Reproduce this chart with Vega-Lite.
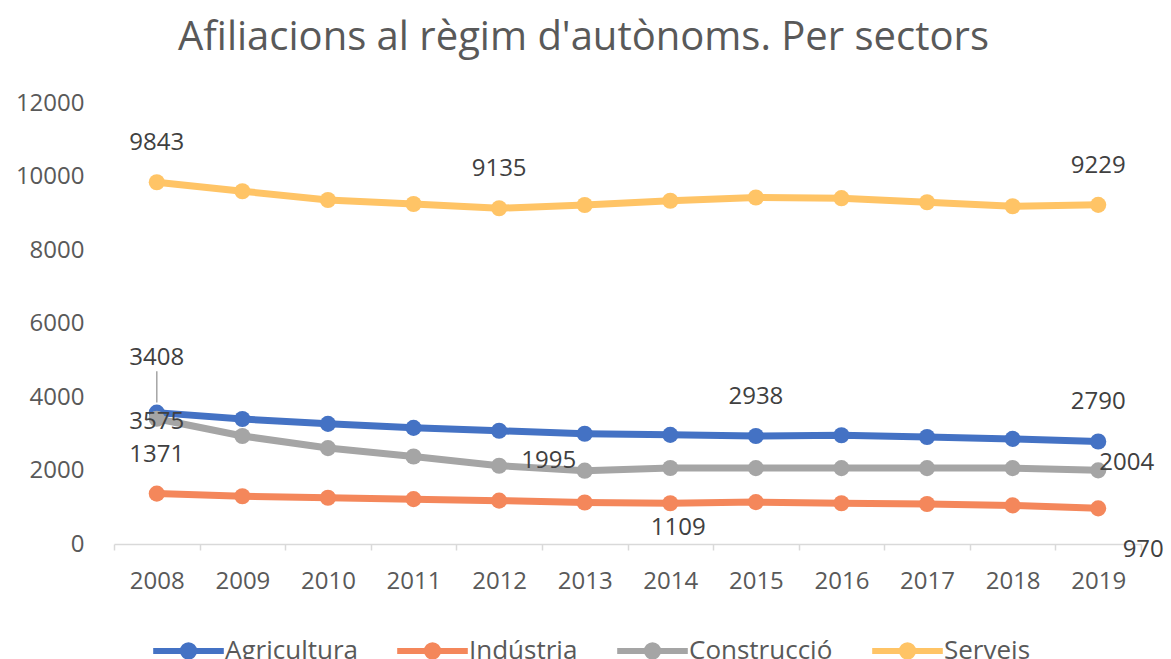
{
  "$schema": "https://vega.github.io/schema/vega-lite/v6.json",
  "width": 1027,
  "height": 441,
  "autosize": {"type": "none"},
  "padding": {"left": 114, "top": 103, "right": 30, "bottom": 115},
  "background": "white",
  "config": {
    "font": "Open Sans",
    "view": {"stroke": null}
  },
  "title": {
    "text": "Afiliacions al règim d'autònoms. Per sectors",
    "fontSize": 40,
    "fontWeight": "normal",
    "color": "#595959",
    "anchor": "middle",
    "dx": -44,
    "offset": 33
  },
  "data": {
    "values": [
      {"year": "2008", "sector": "Agricultura", "value": 3575},
      {"year": "2009", "sector": "Agricultura", "value": 3400},
      {"year": "2010", "sector": "Agricultura", "value": 3270},
      {"year": "2011", "sector": "Agricultura", "value": 3160},
      {"year": "2012", "sector": "Agricultura", "value": 3080},
      {"year": "2013", "sector": "Agricultura", "value": 3000},
      {"year": "2014", "sector": "Agricultura", "value": 2970},
      {"year": "2015", "sector": "Agricultura", "value": 2938},
      {"year": "2016", "sector": "Agricultura", "value": 2960},
      {"year": "2017", "sector": "Agricultura", "value": 2910},
      {"year": "2018", "sector": "Agricultura", "value": 2860},
      {"year": "2019", "sector": "Agricultura", "value": 2790},
      {"year": "2008", "sector": "Indústria", "value": 1371},
      {"year": "2009", "sector": "Indústria", "value": 1300},
      {"year": "2010", "sector": "Indústria", "value": 1260},
      {"year": "2011", "sector": "Indústria", "value": 1220},
      {"year": "2012", "sector": "Indústria", "value": 1180},
      {"year": "2013", "sector": "Indústria", "value": 1130},
      {"year": "2014", "sector": "Indústria", "value": 1109},
      {"year": "2015", "sector": "Indústria", "value": 1140},
      {"year": "2016", "sector": "Indústria", "value": 1110},
      {"year": "2017", "sector": "Indústria", "value": 1090},
      {"year": "2018", "sector": "Indústria", "value": 1050},
      {"year": "2019", "sector": "Indústria", "value": 970},
      {"year": "2008", "sector": "Construcció", "value": 3408},
      {"year": "2009", "sector": "Construcció", "value": 2940},
      {"year": "2010", "sector": "Construcció", "value": 2610},
      {"year": "2011", "sector": "Construcció", "value": 2380},
      {"year": "2012", "sector": "Construcció", "value": 2130},
      {"year": "2013", "sector": "Construcció", "value": 1995},
      {"year": "2014", "sector": "Construcció", "value": 2068},
      {"year": "2015", "sector": "Construcció", "value": 2065},
      {"year": "2016", "sector": "Construcció", "value": 2065},
      {"year": "2017", "sector": "Construcció", "value": 2065},
      {"year": "2018", "sector": "Construcció", "value": 2065},
      {"year": "2019", "sector": "Construcció", "value": 2004},
      {"year": "2008", "sector": "Serveis", "value": 9843},
      {"year": "2009", "sector": "Serveis", "value": 9600},
      {"year": "2010", "sector": "Serveis", "value": 9360},
      {"year": "2011", "sector": "Serveis", "value": 9250},
      {"year": "2012", "sector": "Serveis", "value": 9135},
      {"year": "2013", "sector": "Serveis", "value": 9225},
      {"year": "2014", "sector": "Serveis", "value": 9340},
      {"year": "2015", "sector": "Serveis", "value": 9430},
      {"year": "2016", "sector": "Serveis", "value": 9410},
      {"year": "2017", "sector": "Serveis", "value": 9300},
      {"year": "2018", "sector": "Serveis", "value": 9190},
      {"year": "2019", "sector": "Serveis", "value": 9229}
    ]
  },
  "encoding": {
    "x": {
      "field": "year",
      "type": "ordinal",
      "scale": {"type": "band", "paddingInner": 0, "paddingOuter": 0},
      "axis": {
        "title": null,
        "labelAngle": 0,
        "tickBand": "extent",
        "domainColor": "#D9D9D9",
        "domainWidth": 1.5,
        "tickColor": "#D9D9D9",
        "tickWidth": 1.5,
        "tickSize": 6,
        "labelPadding": 19,
        "labelFontSize": 24,
        "labelColor": "#595959",
        "grid": false
      }
    },
    "y": {
      "field": "value",
      "type": "quantitative",
      "scale": {"domain": [0, 12000], "nice": false},
      "axis": {
        "title": null,
        "values": [0, 2000, 4000, 6000, 8000, 10000, 12000],
        "domain": false,
        "ticks": false,
        "grid": false,
        "labelPadding": 30,
        "labelFontSize": 24,
        "labelColor": "#595959",
        "format": "d"
      }
    }
  },
  "layer": [
    {
      "mark": {"type": "line", "strokeWidth": 7},
      "encoding": {
        "color": {
          "field": "sector",
          "type": "nominal",
          "scale": {
            "domain": ["Agricultura", "Indústria", "Construcció", "Serveis"],
            "range": ["#4472C4", "#F4875B", "#A5A5A5", "#FFC466"]
          },
          "legend": {
            "orient": "none",
            "legendX": 36,
            "legendY": 509,
            "direction": "horizontal",
            "title": null,
            "symbolType": "M-1,0H1M-0.16,0A0.16,0.16 0 1,1 0.16,0A0.16,0.16 0 1,1 -0.16,0Z",
            "symbolSize": 4985,
            "symbolStrokeWidth": 6,
            "labelFontSize": 26,
            "labelColor": "#595959",
            "labelOffset": -2,
            "columnPadding": 27,
            "encode": {
              "symbols": {
                "update": {
                  "fill": {"scale": "color", "field": "value"},
                  "stroke": {"scale": "color", "field": "value"},
                  "opacity": {"value": 1}
                }
              }
            }
          }
        }
      }
    },
    {
      "mark": {"type": "point", "filled": true, "size": 260, "opacity": 1},
      "encoding": {
        "color": {"field": "sector", "type": "nominal", "legend": null}
      }
    },
    {
      "transform": [{"filter": "datum.sector == 'Construcció' && datum.year == '2008'"}],
      "mark": {"type": "rule", "color": "#A5A5A5", "strokeWidth": 1.5},
      "encoding": {
        "y": {"datum": 3850},
        "y2": {"datum": 4700}
      }
    },
    {
      "transform": [{"filter": "(datum.sector == 'Serveis' && (datum.year == '2008' || datum.year == '2012' || datum.year == '2019')) || (datum.sector == 'Agricultura' && (datum.year == '2015' || datum.year == '2019')) || (datum.sector == 'Indústria' && datum.year == '2008')"}],
      "mark": {"type": "text", "fontSize": 24, "color": "#404040", "baseline": "middle", "dy": -39},
      "encoding": {"text": {"field": "value", "type": "quantitative", "format": "d"}}
    },
    {
      "transform": [{"filter": "datum.sector == 'Agricultura' && datum.year == '2008'"}],
      "mark": {"type": "text", "fontSize": 24, "color": "#404040", "baseline": "middle", "dy": 9},
      "encoding": {"text": {"field": "value", "type": "quantitative", "format": "d"}}
    },
    {
      "transform": [{"filter": "datum.sector == 'Construcció' && datum.year == '2008'"}],
      "mark": {"type": "text", "fontSize": 24, "color": "#404040", "baseline": "middle", "dy": -61},
      "encoding": {"text": {"field": "value", "type": "quantitative", "format": "d"}}
    },
    {
      "transform": [{"filter": "datum.sector == 'Indústria' && datum.year == '2014'"}],
      "mark": {"type": "text", "fontSize": 24, "color": "#404040", "baseline": "middle", "dx": 8, "dy": 25},
      "encoding": {"text": {"field": "value", "type": "quantitative", "format": "d"}}
    },
    {
      "transform": [{"filter": "datum.sector == 'Indústria' && datum.year == '2019'"}],
      "mark": {"type": "text", "fontSize": 24, "color": "#404040", "baseline": "middle", "dx": 45, "dy": 42},
      "encoding": {"text": {"field": "value", "type": "quantitative", "format": "d"}}
    },
    {
      "transform": [{"filter": "datum.sector == 'Construcció' && datum.year == '2013'"}],
      "mark": {"type": "text", "fontSize": 24, "color": "#404040", "baseline": "middle", "dx": -36, "dy": -10},
      "encoding": {"text": {"field": "value", "type": "quantitative", "format": "d"}}
    },
    {
      "transform": [{"filter": "datum.sector == 'Construcció' && datum.year == '2019'"}],
      "mark": {"type": "text", "fontSize": 24, "color": "#404040", "baseline": "middle", "align": "left", "dx": 1, "dy": -7},
      "encoding": {"text": {"field": "value", "type": "quantitative", "format": "d"}}
    }
  ]
}
